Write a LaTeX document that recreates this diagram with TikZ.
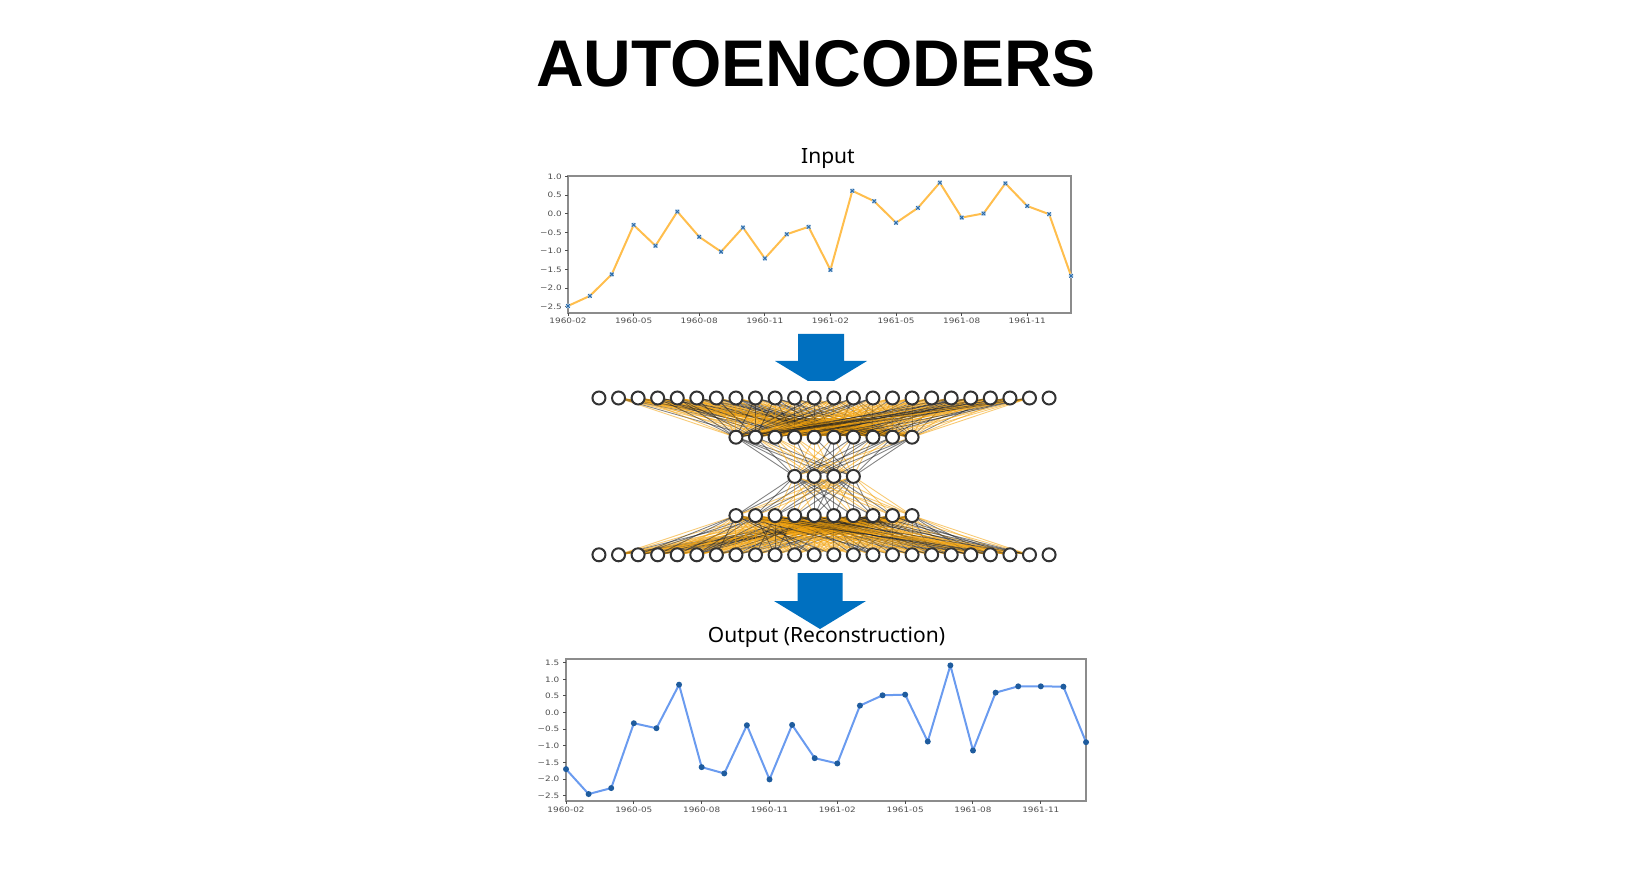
\documentclass[tikz,border=0pt]{standalone}
\usepackage{fontspec}
\usepackage{tikz}
\usetikzlibrary{positioning}
\usetikzlibrary{calc}
\setmainfont{Noto Sans}
\newfontfamily\headfont{Liberation Sans}
\newfontfamily\tickfont{DejaVu Sans}
\definecolor{arrowblue}{HTML}{0070C0}
\definecolor{lineorange}{HTML}{FFBE4D}
\definecolor{lineblue}{HTML}{6A9BEF}
\definecolor{dotblue}{HTML}{1F5C9E}
\definecolor{markblue}{HTML}{2A6AA8}
\definecolor{halo}{HTML}{B5D0EA}
\definecolor{axisgray}{HTML}{8C8C8C}
\definecolor{ticktext}{HTML}{4D4D4D}
\definecolor{wireorange}{HTML}{F29F05}
\definecolor{wiregray}{HTML}{202020}
\pgfdeclarelayer{below}
\pgfsetlayers{below,main}
\tikzset{
	every node/.style={align=center},
	%
	heading/.style={font=\headfont\bfseries\fontsize{33}{36}\selectfont, inner sep=0pt},
	subtitle/.style={font=\fontsize{10.5}{12}\selectfont, inner sep=0pt},
	ticklabel/.style={font=\tickfont\fontsize{3.7}{4}\selectfont, text=ticktext,
		inner sep=0pt, xscale=1.2},
	frame/.style={draw=axisgray, line width=1pt},
	tick/.style={draw=ticktext, line width=0.5pt},
	neuron/.style={draw=black!80, line width=1pt, fill=white, circle,
		inner sep=0pt, minimum size=6.5pt},
	block arrow/.style={fill=arrowblue},
	wire/.style={draw=#1, opacity=0.55, line width=0.45pt},
	%
	input line/.style={draw=lineorange, line width=1pt, line join=round},
	output line/.style={draw=lineblue, line width=1pt, line join=round},
}
\def\inputdata{-2.48,-2.21,-1.63,-0.30,-0.86,0.06,-0.62,-1.02,-0.37,-1.20,-0.55,-0.35,
	-1.51,0.62,0.34,-0.24,0.16,0.84,-0.10,0.01,0.82,0.21,-0.01,-1.67}
\def\outputdata{-1.70,-2.45,-2.27,-0.32,-0.47,0.84,-1.64,-1.83,-0.38,-2.01,-0.37,-1.37,
	-1.53,0.21,0.52,0.54,-0.87,1.42,-1.14,0.60,0.79,0.79,0.78,-0.89}
\def\datelabels{0/1960-02,3/1960-05,6/1960-08,9/1960-11,12/1961-02,15/1961-05,18/1961-08,21/1961-11}

\begin{document}
\begin{tikzpicture}[x=0.5pt, y=-0.5pt]
	\useasboundingbox (0,0) rectangle (1636,870);
	\node (title) [heading, anchor=base] at (816,87) {AUTOENCODERS};
	%
	% input series
	\node (input-title) [subtitle, anchor=base] at (828,164) {Input};
	\begin{scope}[shift={(568,213.84)}, x=10.935pt, y=18.57pt]
		\draw [frame] (0,-2.67) rectangle (23,1.02);
		\foreach \v/\t [count=\k] in {1.0/1.0,0.5/0.5,0.0/0.0,-0.5/−0.5,-1.0/−1.0,
				-1.5/−1.5,-2.0/−2.0,-2.5/−2.5} {
			\draw [tick] (0,\v) -- ++(-1.5pt,0);
			\node (in-ylab-\k) [ticklabel, anchor=east, xshift=-2.4pt] at (0,\v) {\t};
		}
		\foreach \m/\t [count=\k] in \datelabels {
			\draw [tick] (\m,-2.67) -- ++(0,-1.5pt);
			\node (in-xlab-\k) [ticklabel, anchor=north, yshift=-2.4pt] at (\m,-2.67) {\t};
		}
		\foreach \v [count=\i from 0] in \inputdata
			\coordinate (in-p\i) at (\i,\v);
		\draw [input line] (in-p0) \foreach \i in {1,...,23} { -- (in-p\i) };
		\foreach \i in {0,...,23} {
			\fill [halo] (in-p\i) circle (1.2pt);
			\draw [markblue, line width=0.45pt] (in-p\i) ++(-0.9pt,-0.9pt) -- ++(1.8pt,1.8pt)
				(in-p\i) ++(-0.9pt,0.9pt) -- ++(1.8pt,-1.8pt);
		}
	\end{scope}
	%
	% arrows between the parts
	\fill [block arrow] (798,334) -- (844,334) -- (844,361) -- (867,361) -- (834,381)
		-- (808,381) -- (775,361) -- (798,361) -- cycle;
	\fill [block arrow] (797.5,573) -- (842.5,573) -- (842.5,601) -- (866,601)
		-- (820,629) -- (774,601) -- (797.5,601) -- cycle;
	%
	% network
	\foreach \k in {1,...,24} {
		\node (top-\k) [neuron] at ({824+(\k-12.5)*19.57},398) {};
		\node (bot-\k) [neuron] at ({824+(\k-12.5)*19.57},554.8) {};
	}
	\foreach \k in {1,...,10} {
		\node (enc-\k) [neuron] at ({824+(\k-5.5)*19.57},437.2) {};
		\node (dec-\k) [neuron] at ({824+(\k-5.5)*19.57},515.6) {};
	}
	\foreach \k in {1,...,4}
		\node (code-\k) [neuron] at ({824+(\k-2.5)*19.57},476.4) {};
	\begin{pgfonlayer}{below}
		\pgfmathsetseed{11}
		\foreach \a in {2,...,23}
			\foreach \b in {1,...,10} {
				\pgfmathrandominteger{\pick}{0}{9}
				\ifnum\pick<6 \def\wc{wireorange}\else\def\wc{wiregray}\fi
				\draw [wire=\wc] (top-\a.center) -- (enc-\b.center);
				\pgfmathrandominteger{\pick}{0}{9}
				\ifnum\pick<6 \def\wc{wireorange}\else\def\wc{wiregray}\fi
				\draw [wire=\wc] (bot-\a.center) -- (dec-\b.center);
			}
		\foreach \a in {1,...,10}
			\foreach \b in {1,...,4} {
				\pgfmathrandominteger{\pick}{0}{9}
				\ifnum\pick<5 \def\wc{wireorange}\else\def\wc{wiregray}\fi
				\draw [wire=\wc] (enc-\a.center) -- (code-\b.center);
				\pgfmathrandominteger{\pick}{0}{9}
				\ifnum\pick<5 \def\wc{wireorange}\else\def\wc{wiregray}\fi
				\draw [wire=\wc] (code-\b.center) -- (dec-\a.center);
			}
	\end{pgfonlayer}
	%
	% reconstructed series
	\node (output-title) [subtitle, anchor=base] at (826.5,642) {Output (Reconstruction)};
	\begin{scope}[shift={(566,712.6)}, x=11.305pt, y=16.625pt]
		\draw [frame] (0,-2.65) rectangle (23,1.61);
		\foreach \v/\t [count=\k] in {1.5/1.5,1.0/1.0,0.5/0.5,0.0/0.0,-0.5/−0.5,
				-1.0/−1.0,-1.5/−1.5,-2.0/−2.0,-2.5/−2.5} {
			\draw [tick] (0,\v) -- ++(-1.5pt,0);
			\node (out-ylab-\k) [ticklabel, anchor=east, xshift=-2.6pt] at (0,\v) {\t};
		}
		\foreach \m/\t [count=\k] in \datelabels {
			\draw [tick] (\m,-2.65) -- ++(0,-1.5pt);
			\node (out-xlab-\k) [ticklabel, anchor=north, yshift=-2.8pt] at (\m,-2.65) {\t};
		}
		\foreach \v [count=\i from 0] in \outputdata
			\coordinate (out-p\i) at (\i,\v);
		\draw [output line] (out-p0) \foreach \i in {1,...,23} { -- (out-p\i) };
		\foreach \i in {0,...,23}
			\fill [dotblue] (out-p\i) circle (1.5pt);
	\end{scope}
\end{tikzpicture}
\end{document}
